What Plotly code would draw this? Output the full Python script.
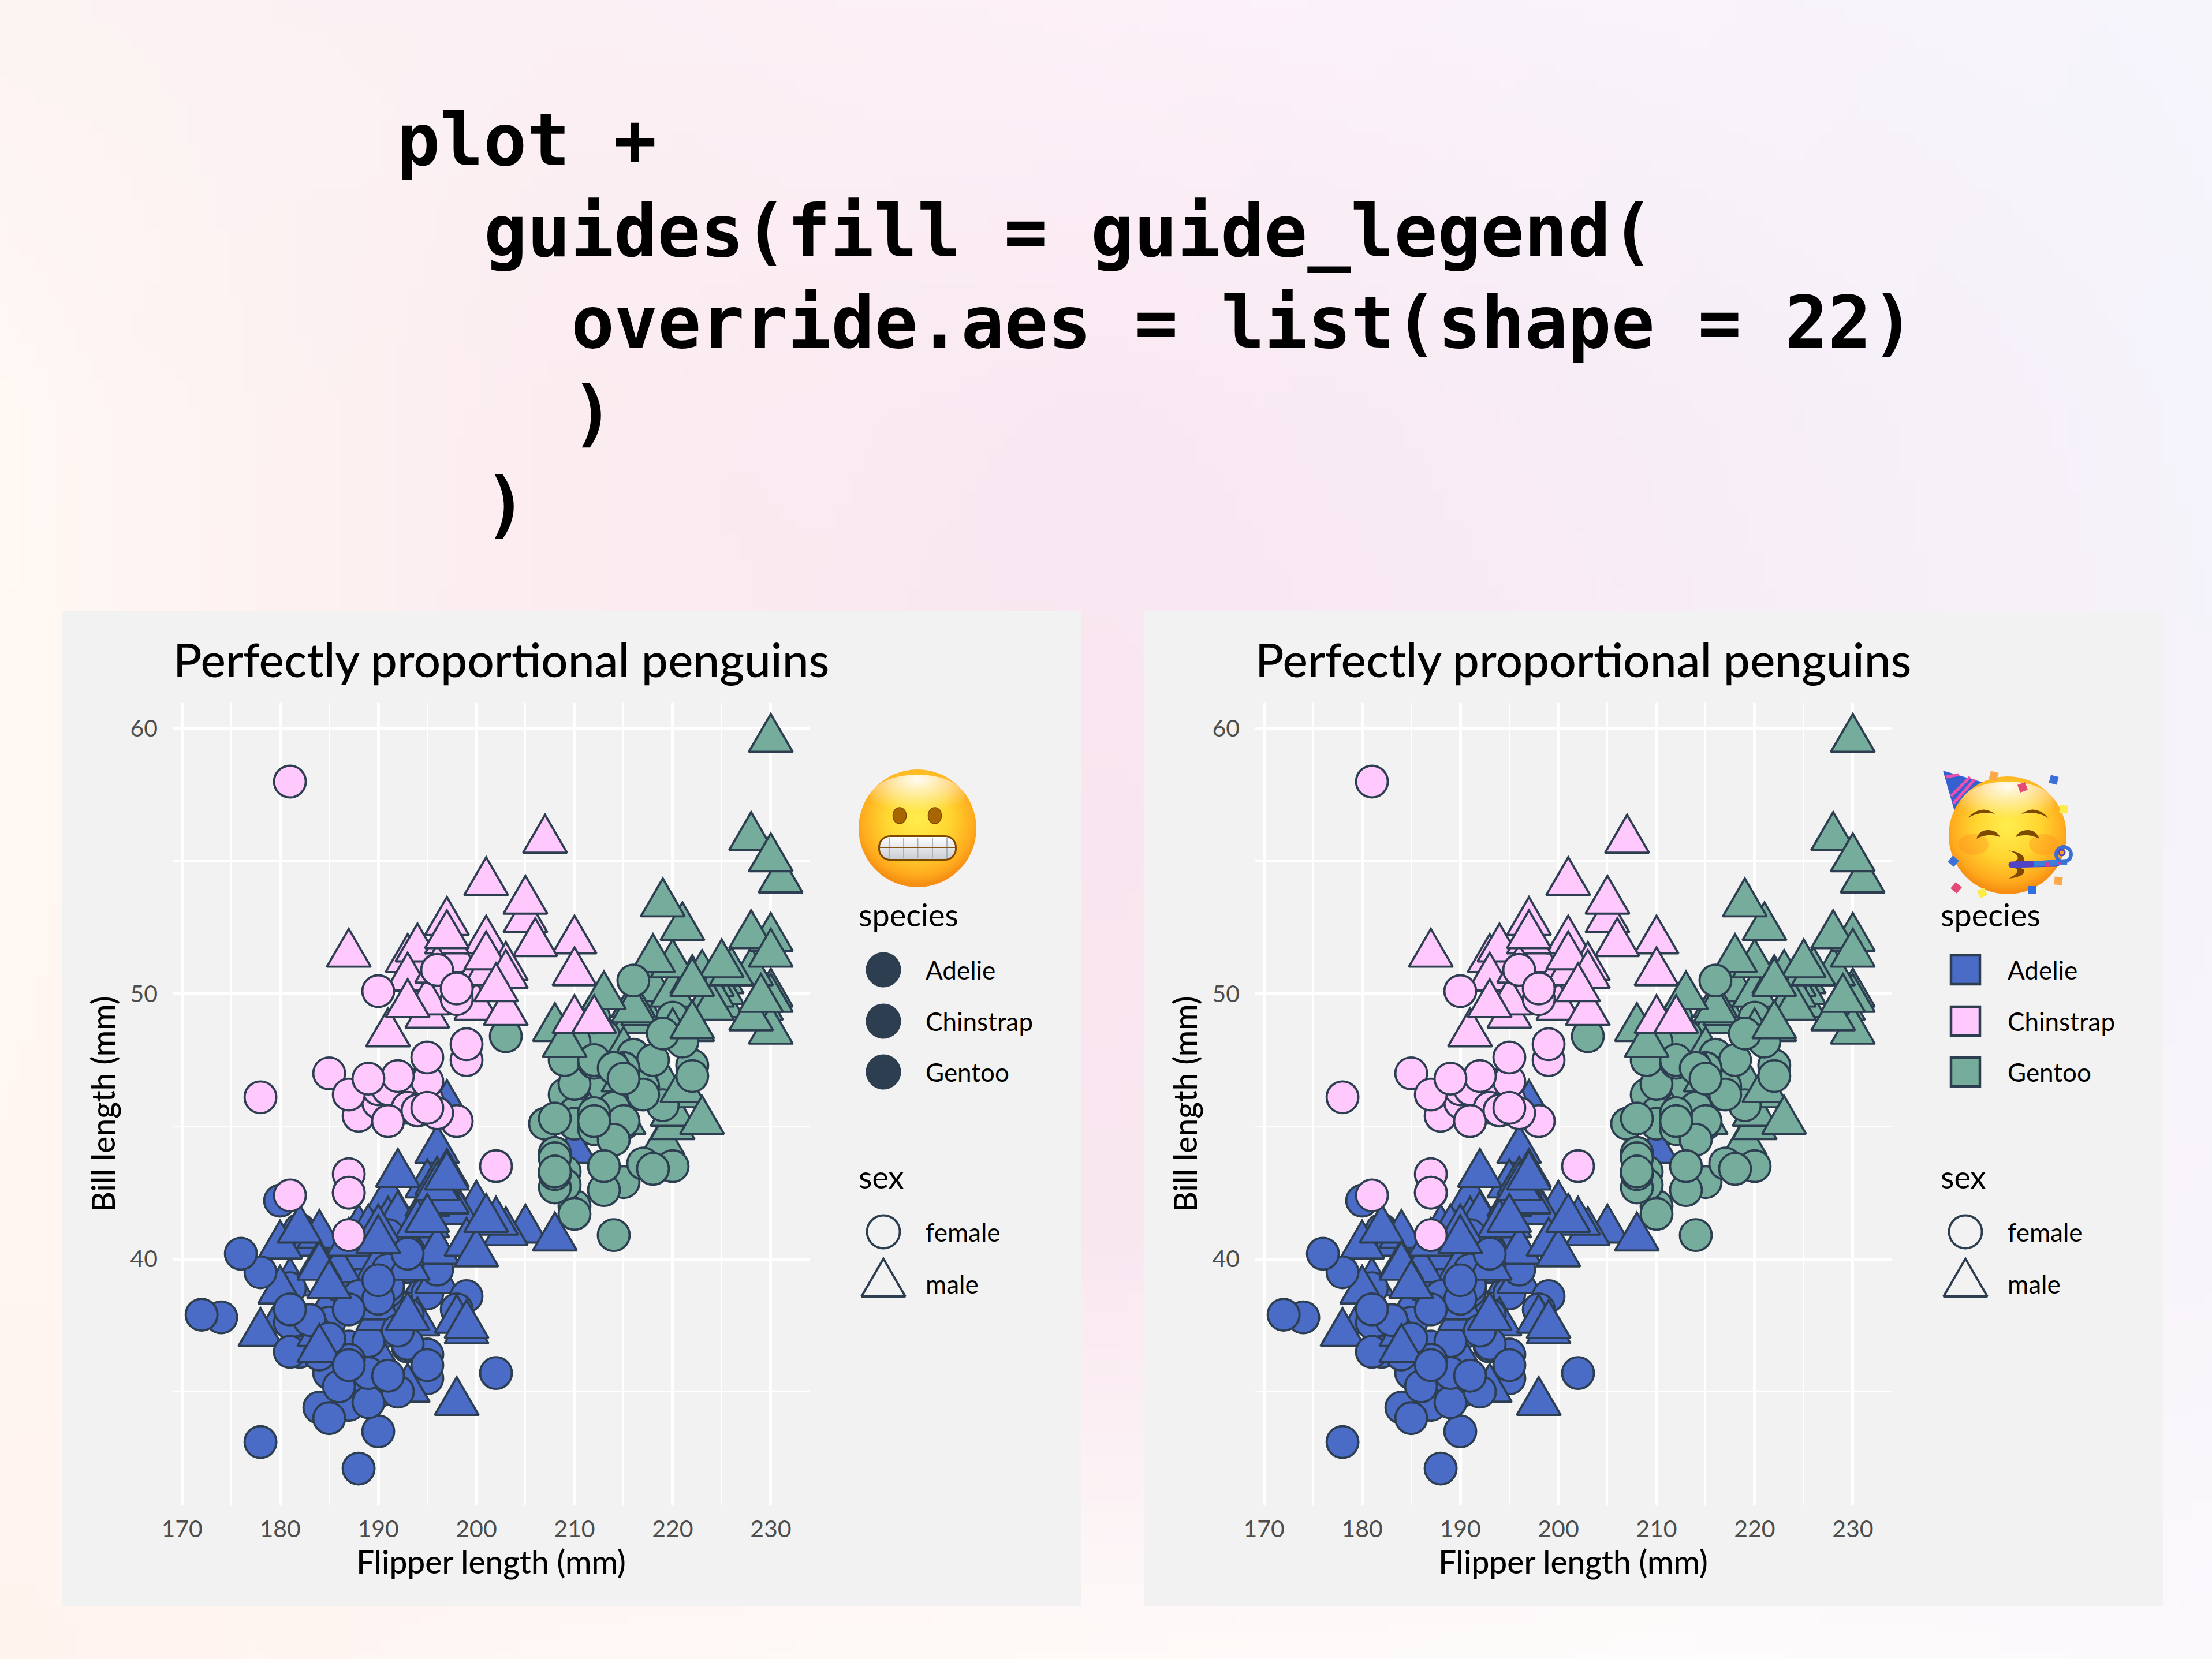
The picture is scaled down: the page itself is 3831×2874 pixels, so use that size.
import base64, struct, zlib
import numpy as np
import plotly.graph_objects as go

W, H = 3831, 2874

adelie_bill = [39.1,39.5,40.3,36.7,39.3,38.9,39.2,41.1,38.6,34.6,36.6,38.7,42.5,34.4,46.0,37.8,37.7,35.9,38.2,38.8,35.3,40.6,40.5,37.9,40.5,
 39.5,37.2,39.5,40.9,36.4,39.2,38.8,42.2,37.6,39.8,36.5,40.8,36.0,44.1,37.0,39.6,41.1,36.0,42.3,
 39.6,40.1,35.0,42.0,34.5,41.4,39.0,40.6,36.5,37.6,35.7,41.3,37.6,41.1,36.4,41.6,35.5,41.1,
 35.9,41.8,33.5,39.7,39.6,45.8,35.5,42.8,40.9,37.2,36.2,42.1,34.6,42.9,36.7,35.1,
 37.3,41.3,36.3,36.9,38.3,38.9,35.7,41.1,34.0,39.6,36.2,40.8,38.1,40.3,33.1,43.2,
 35.0,41.0,37.7,37.8,37.9,39.7,38.6,38.2,38.1,43.2,38.1,45.6,39.7,42.2,39.6,42.7,
 38.6,37.3,35.7,41.1,36.2,37.7,40.2,41.4,35.2,40.6,38.8,41.5,39.0,44.1,38.5,43.1,
 36.8,37.5,38.1,41.1,35.6,40.2,37.0,39.7,40.2,40.6,32.1,40.7,37.3,39.0,39.2,36.6,36.0,37.8,36.0,41.5]
adelie_flipper = [181,186,195,193,190,181,195,182,191,198,185,195,197,184,194,174,180,189,185,180,187,183,187,172,180,
 178,178,188,184,195,196,190,180,181,184,182,195,186,196,185,190,182,190,191,
 186,188,190,200,187,191,186,193,181,194,185,195,185,192,184,192,195,188,
 190,198,190,190,196,197,190,195,191,184,187,195,189,196,187,193,
 191,194,190,189,189,190,202,205,185,186,187,208,190,196,178,192,
 192,203,183,190,193,184,199,190,181,197,198,191,193,197,191,196,
 188,199,189,189,187,198,176,202,186,199,191,195,191,210,190,197,
 193,199,187,190,191,200,185,193,193,187,188,190,192,185,190,184,195,193,187,201]
adelie_sex = ["m","f","f","f","m","f","m","f","m","m","f","f","m","f","m","f","m","f","m","m","f","m","f","f","m",
 "f","m","f","m","f","m","f","f","f","m","f","m","f","m","f","m","m","f","m",
 "f","m","f","m","f","m","f","m","f","m","f","m","f","m","f","m","f","m",
 "f","m","f","m","f","m","f","m","f","m","f","m","f","m","f","m",
 "f","m","m","f","m","f","f","m","f","m","f","m","f","m","f","m",
 "f","m","f","m","f","m","f","m","f","m","f","m","f","m","f","m",
 "f","m","f","m","f","m","f","m","f","m","f","m","f","m","f","m",
 "f","m","f","m","f","m","f","m","f","m","f","m","f","m","f","m","f","m","f","m"]

gentoo_bill = [46.1,50.0,48.7,50.0,47.6,46.5,45.4,46.7,43.3,46.8,40.9,49.0,45.5,48.4,45.8,49.3,42.0,49.2,46.2,48.7,50.2,45.1,46.5,46.3,42.9,46.1,47.8,48.2,50.0,47.3,42.8,45.1,59.6,
 49.1,48.4,42.6,44.4,44.0,48.7,42.7,49.6,45.3,49.6,50.5,43.6,45.5,50.5,44.9,45.2,46.6,48.5,45.1,50.1,46.5,45.0,43.8,45.5,43.2,50.4,45.3,46.2,45.7,54.3,45.8,49.8,49.5,43.5,50.7,47.7,46.4,48.2,48.6,47.5,51.1,45.2,45.2,
 49.1,52.5,47.4,50.0,44.9,50.8,43.4,51.3,47.5,52.1,47.5,52.2,45.5,49.5,44.5,50.8,49.4,46.9,48.4,51.1,48.5,55.9,47.2,49.1,46.8,41.7,53.4,43.3,48.1,50.5,49.8,43.5,51.5,46.2,55.1,48.8,47.2,46.8,50.4,45.2,49.9]
gentoo_flipper = [211,230,210,218,215,210,211,219,209,215,214,216,214,213,210,217,210,221,209,222,218,215,213,215,215,215,215,210,220,222,209,207,230,
 220,220,213,219,208,208,208,225,210,216,222,217,210,225,213,215,210,220,210,225,217,220,208,220,208,224,208,221,214,231,219,230,229,220,223,216,221,221,230,209,220,215,223,
 212,221,212,224,212,228,218,218,212,230,218,228,212,224,214,226,216,222,203,225,219,228,215,228,215,210,219,208,209,216,229,213,230,217,230,222,214,215,222,212,213]
gentoo_sex = ["f","m","f","m","m","f","f","m","f","m","f","m","m","f","m","m","f","m","f","m","m","f","f","f","f","m","m","f","m","f","f","f","m",
 "f","m","f","m","f","m","f","m","f","m","m","f","f","m","f","m","f","m","f","m","f","m","f","m","f","m","f","m","f","m","f","m","m","f","m","f","m","f","m","f","m","f","m",
 "f","m","f","m","f","m","f","m","f","m","f","m","f","m","f","m","m","f","f","m","f","m","f","m","m","f","m","f","m","f","m","f","m","f","m","m","f","f","m","f","m"]

chinstrap_bill = [46.5,50.0,51.3,45.4,52.7,45.2,46.1,51.3,46.0,51.3,46.6,51.7,47.0,52.0,45.9,50.5,50.3,58.0,46.4,49.2,42.4,48.5,43.2,50.6,46.7,52.0,50.5,49.5,46.4,52.8,40.9,54.2,42.5,51.0,
 49.7,47.5,47.6,52.0,46.9,53.5,49.0,46.2,50.9,45.5,50.9,50.8,50.1,49.0,51.5,49.8,48.1,51.4,45.7,50.7,42.5,52.2,45.2,49.3,50.2,45.6,51.9,46.8,45.7,55.8,43.5,49.6,50.8,50.2]
chinstrap_flipper = [192,196,193,188,197,198,178,197,195,198,193,194,185,201,190,201,197,181,190,195,181,191,187,193,195,197,200,200,191,205,187,201,187,203,
 195,199,195,210,192,205,210,187,196,196,196,201,190,212,187,198,199,201,193,203,187,197,191,203,202,194,206,189,195,207,202,193,210,198]
chinstrap_sex = ["f","m","m","f","m","f","f","m","f","m","f","m","f","m","f","m","m","f","f","m","f","m","f","m","f","m","f","m","f","m","f","m","f","m",
 "m","f","f","m","f","m","m","f","m","f","f","m","f","m","m","f","f","m","f","m","f","m","f","m","m","f","m","f","f","m","f","m","m","f"]

species_names = ["Adelie", "Chinstrap", "Gentoo"]
sex_names = ["female", "male"]
x_ticks = [170, 180, 190, 200, 210, 220, 230]
y_ticks = [40, 50, 60]
title_text = "Perfectly proportional penguins"
x_title = "Flipper length (mm)"
y_title = "Bill length (mm)"
code_lines = ["plot +", "  guides(fill = guide_legend(", "    override.aes = list(shape = 22)", "    )", "  )"]

ADELIE, CHIN, GENTOO, INK = "#4a6cc6", "#ffc9fd", "#76ac9b", "#2c3e50"
PANEL = "#f2f2f2"
fill_of = {"Adelie": ADELIE, "Chinstrap": CHIN, "Gentoo": GENTOO}
FONT = "Lato"
FONT_MED = "'Lato Medium', Lato"

flipper = adelie_flipper + gentoo_flipper + chinstrap_flipper
bill = adelie_bill + gentoo_bill + chinstrap_bill
sex = adelie_sex + gentoo_sex + chinstrap_sex
colors = [ADELIE]*len(adelie_bill) + [GENTOO]*len(gentoo_bill) + [CHIN]*len(chinstrap_bill)
symbols = ["circle" if s == "f" else "triangle-up" for s in sex]

# ---- soft background wash
bg_grid = [["#fcf3f3", "#fbf0f4", "#fdf1f8", "#f9f3fa", "#f6f5fc"],
           ["#fff8f3", "#fbecf0", "#f9e8f2", "#f7edf6", "#f5f3fb"],
           ["#fff8f2", "#fcecf0", "#f9e5ef", "#f8ebf4", "#f6f3fa"],
           ["#fff6f1", "#fcf0f1", "#f9e7f0", "#f9f0f5", "#f8f5fa"],
           ["#fff3ee", "#fef7f4", "#fefaf8", "#fdfbfb", "#fbf9fc"]]

def png_uri(grid, w=160, h=120):
    arr = np.array([[[int(c[i:i+2], 16) for i in (1, 3, 5)] for c in row] for row in grid], float)
    ys = np.linspace(0, arr.shape[0]-1, h); xs = np.linspace(0, arr.shape[1]-1, w)
    y0 = np.minimum(ys.astype(int), arr.shape[0]-2); x0 = np.minimum(xs.astype(int), arr.shape[1]-2)
    fy = (ys-y0)[:, None, None]; fx = (xs-x0)[None, :, None]
    img = (arr[y0][:, x0]*(1-fy)*(1-fx) + arr[y0+1][:, x0]*fy*(1-fx)
           + arr[y0][:, x0+1]*(1-fy)*fx + arr[y0+1][:, x0+1]*fy*fx).round().astype(np.uint8)
    raw = b"".join(b"\x00" + img[i].tobytes() for i in range(h))
    def chunk(t, d):
        return struct.pack(">I", len(d)) + t + d + struct.pack(">I", zlib.crc32(t+d))
    png = b"\x89PNG\r\n\x1a\n" + chunk(b"IHDR", struct.pack(">IIBBBBB", w, h, 8, 2, 0, 0, 0)) + chunk(b"IDAT", zlib.compress(raw)) + chunk(b"IEND", b"")
    return "data:image/png;base64," + base64.b64encode(png).decode()

FACE_DEFS = """<defs>
<radialGradient id="f" cx=".5" cy=".42" r=".56"><stop offset="0" stop-color="#ffee4f"/><stop offset=".5" stop-color="#ffd530"/>
<stop offset=".85" stop-color="#ffab1e"/><stop offset="1" stop-color="#f58e12"/></radialGradient>
<radialGradient id="h" cx=".5" cy=".1" r=".7"><stop offset="0" stop-color="#fff" stop-opacity=".95"/><stop offset="1" stop-color="#fff" stop-opacity="0"/></radialGradient>
<linearGradient id="t" x1="0" y1="0" x2="0" y2="1"><stop offset="0" stop-color="#fff"/><stop offset="1" stop-color="#c9ccd2"/></linearGradient>
</defs>"""

def svg_uri(body):
    s = f'<svg xmlns="http://www.w3.org/2000/svg" width="780" height="780" viewBox="0 0 260 260">{FACE_DEFS}{body}</svg>'
    return "data:image/svg+xml;base64," + base64.b64encode(s.encode()).decode()

grin = '<circle cx="129" cy="125" r="102" fill="url(#f)"/><ellipse cx="129" cy="72" rx="82" ry="40" fill="url(#h)"/>'
grin += '<ellipse cx="98" cy="103" rx="11.5" ry="14" fill="#a86500" stroke="#7d4a00" stroke-width="1.5"/><ellipse cx="159" cy="103" rx="11.5" ry="14" fill="#a86500" stroke="#7d4a00" stroke-width="1.5"/>'
grin += '<rect x="62.5" y="138.5" width="133" height="41" rx="19" fill="url(#t)" stroke="#7d4a00" stroke-width="3"/>'
for vx in (81, 105, 129.5, 155, 180):
    grin += f'<line x1="{vx}" x2="{vx}" y1="141" y2="177" stroke="#a3acb6" stroke-width="1.8"/>'
grin += '<line x1="64" x2="194" y1="158" y2="158" stroke="#8a5510" stroke-width="2"/>'

party = '<polygon points="15,15 83,35 35,85" fill="#3560cf"/>'
party += '<path d="M20,26 L42,22 M29,59 L62,26 M33,72 L70,30" stroke="#f04fb0" stroke-width="5" fill="none"/>'
party += '<circle cx="127" cy="127" r="102" fill="url(#f)"/><ellipse cx="127" cy="74" rx="82" ry="40" fill="url(#h)"/>'
party += '<ellipse cx="68" cy="143" rx="26" ry="18" fill="#ff8a1e" opacity=".35"/><ellipse cx="190" cy="143" rx="26" ry="18" fill="#ff8a1e" opacity=".35"/>'
party += '<path d="M58,97 Q81,72 105,90 Q81,84 58,97Z M151,90 Q175,72 198,97 Q175,84 151,90Z" fill="#7d4a00"/>'
party += '<path d="M73,133 Q78,118 93,118 Q108,118 114,130 Q93,122 73,133Z M141,130 Q147,118 162,118 Q176,118 182,133 Q162,122 141,130Z" fill="#7d4a00"/>'
party += '<path d="M128,153 Q160,158 155,172 L133,177 L155,186 Q160,198 129,202 Q148,192 143,186 L131,178 L144,169 Q148,160 128,153Z" fill="#7d4a00"/>'
party += '<path d="M134,178 L212,176" stroke="#5044c4" stroke-width="11" stroke-linecap="round"/><path d="M172,177 L230,173" stroke="#3c7fd8" stroke-width="10"/>'
party += '<circle cx="196" cy="178" r="4" fill="#e0369a"/><circle cx="218" cy="174" r="3.5" fill="#e0369a"/>'
party += '<circle cx="224" cy="160" r="13" fill="none" stroke="#3c6fd8" stroke-width="6"/><circle cx="221" cy="157" r="5" fill="none" stroke="#5044c4" stroke-width="3"/>'
for cx, cy, c, a in [(103, 24, "#fba94a", 15), (153, 44, "#e34a78", -20), (207, 31, "#3d6fd8", 15), (224, 82, "#fbec4c", 5),
                     (33, 172, "#3d6fd8", 40), (38, 218, "#e34a78", 40), (83, 227, "#fbec4c", -25), (169, 222, "#2f6fe0", 0), (215, 206, "#fba94a", 5)]:
    party += f'<rect x="{cx-7}" y="{cy-7}" width="14" height="14" fill="{c}" transform="rotate({a} {cx} {cy})"/>'

def px(x): return x / W
def py(y): return 1 - y / H

fig = go.Figure()
OFFSET = 1874
shapes, images, annos = [], [], []
images.append(dict(source=png_uri(bg_grid), xref="paper", yref="paper", x=0, y=1, sizex=1, sizey=1, sizing="stretch", layer="below", xanchor="left", yanchor="top"))

def text(s, x, y, size, color="#000000", family=FONT, anchor="left"):
    annos.append(dict(text=s, x=px(x), y=py(y), xref="paper", yref="paper", xanchor=anchor, yanchor="middle",
                      showarrow=False, font=dict(family=family, size=size, color=color), align="left"))

leg_x, leg_y, leg_fill, leg_sym, leg_size, leg_lw = [], [], [], [], [], []

for k, (off, sfx) in enumerate([(0, ""), (OFFSET, "2")]):
    shapes.append(dict(type="rect", xref="paper", yref="paper", x0=px(107+off), x1=px(1872+off), y0=py(1058), y1=py(2783),
                       fillcolor=PANEL, line=dict(width=0), layer="below"))
    fig.add_trace(go.Scatter(x=flipper, y=bill, mode="markers", xaxis="x"+sfx, yaxis="y"+sfx, showlegend=False, hoverinfo="skip",
                             marker=dict(symbol=symbols, color=colors, size=55, line=dict(color=INK, width=3.8))))
    axcommon = dict(showline=False, zeroline=False, ticks="", gridcolor="#ffffff", gridwidth=4.5, automargin=False,
                    tickfont=dict(family=FONT, size=41, color="#4d4d4d"), layer="below traces",
                    title_font=dict(family=FONT_MED, size=55, color="#000000"))
    xk, yk = "xaxis"+sfx, "yaxis"+sfx
    fig.update_layout({
        xk: dict(domain=[px(299+off), px(1402+off)], range=[169.05, 233.95], anchor="y"+sfx, tickvals=x_ticks,
                 minor=dict(dtick=5, showgrid=True, gridcolor="#ffffff", gridwidth=2.5, ticks=""),
                 title=dict(text=x_title, standoff=2), ticklabelstandoff=14, **axcommon),
        yk: dict(domain=[py(2607), py(1218)], range=[30.73, 60.96], anchor="x"+sfx, tickvals=y_ticks,
                 minor=dict(dtick=5, showgrid=True, gridcolor="#ffffff", gridwidth=2.5, ticks=""),
                 title=dict(text=y_title, standoff=8), ticklabelstandoff=25, **axcommon),
    })
    text(title_text, 298+off, 1141, 82, family=FONT_MED)
    text("species", 1485+off, 1584, 54)
    text("sex", 1485+off, 2038, 54)
    rows = [1680, 1769, 1857]
    for name, ry in zip(species_names, rows):
        text(name, 1601+off, ry, 44)
        leg_x.append(1530+off); leg_y.append(ry)
        if k == 0:
            leg_fill.append(INK); leg_sym.append("circle"); leg_size.append(57); leg_lw.append(4)
        else:
            leg_fill.append(fill_of[name]); leg_sym.append("square"); leg_size.append(50); leg_lw.append(4.5)
    for name, ry, sym in zip(sex_names, [2134, 2224], ["circle", "triangle-up"]):
        text(name, 1601+off, ry, 44)
        leg_x.append(1530+off); leg_y.append(ry); leg_fill.append("rgba(0,0,0,0)"); leg_sym.append(sym); leg_size.append(57); leg_lw.append(3.8)

images.append(dict(source=svg_uri(grin), xref="paper", yref="paper", x=px(1460), y=py(1310), sizex=260/W, sizey=260/H, sizing="stretch", layer="above", xanchor="left", yanchor="top"))
images.append(dict(source=svg_uri(party), xref="paper", yref="paper", x=px(3350), y=py(1320), sizex=260/W, sizey=260/H, sizing="stretch", layer="above", xanchor="left", yanchor="top"))

# legend keys sit on a full-page pixel axis
fig.add_trace(go.Scatter(x=leg_x, y=leg_y, mode="markers", xaxis="x3", yaxis="y3", showlegend=False, hoverinfo="skip",
                         marker=dict(symbol=leg_sym, color=leg_fill, size=leg_size, opacity=1, line=dict(color=INK, width=leg_lw))))
fig.update_layout(xaxis3=dict(domain=[0, 1], range=[0, W], visible=False, anchor="y3"),
                  yaxis3=dict(domain=[0, 1], range=[H, 0], visible=False, anchor="x3"))

# code block
CODE_FONT = "DejaVu Sans Mono"
for i, line in enumerate(code_lines):
    stripped = line.lstrip(" ")
    indent = (len(line) - len(stripped)) // 2
    annos.append(dict(text=f"<b>{stripped}</b>", x=px(685 + indent*151), y=py(243 + i*157.5), xref="paper", yref="paper",
                      xanchor="left", yanchor="middle", showarrow=False, font=dict(family=CODE_FONT, size=124.7, color="#000000")))

fig.update_layout(width=W, height=H, autosize=False, margin=dict(l=0, r=0, t=0, b=0, pad=0),
                  paper_bgcolor="#fbf1f4", plot_bgcolor="rgba(0,0,0,0)", showlegend=False,
                  shapes=shapes, images=images, annotations=annos)

post = """
document.body.style.margin = '0';
var gd = document.getElementById('{plot_id}');
gd.querySelectorAll('path.point').forEach(function (p) {
  var d = p.getAttribute('d') || '';
  if (d.indexOf('H') >= 0 && d.indexOf('L0,') >= 0) { p.setAttribute('d', 'M-38,22H38L0,-43.5Z'); }
});
"""
fig.write_html("out.html", include_plotlyjs=True, post_script=post, config=dict(displayModeBar=False, responsive=False))
